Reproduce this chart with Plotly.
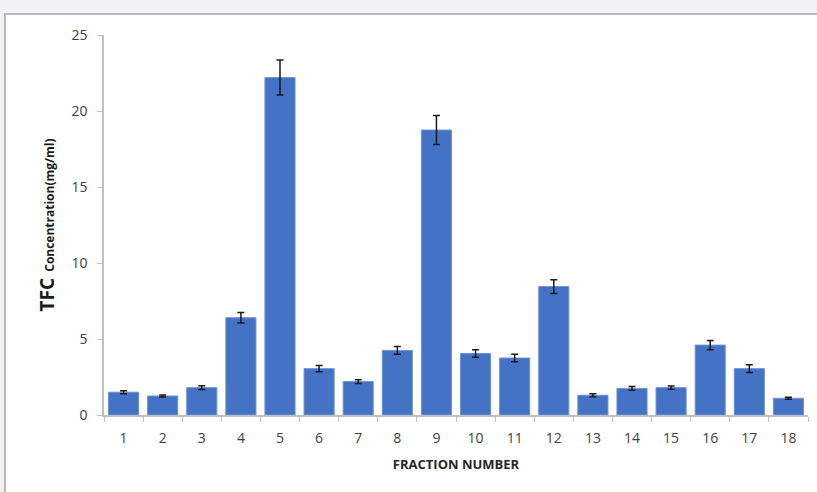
import plotly.graph_objects as go

# Total flavonoid content per collected fraction (mean ± SD)
fractions = [str(i) for i in range(1, 19)]
tfc_mean = [1.5, 1.25, 1.8, 6.4, 22.2, 3.05, 2.2, 4.25, 18.75, 4.05, 3.75, 8.45,
            1.3, 1.75, 1.8, 4.6, 3.05, 1.1]
tfc_sd = [0.1, 0.07, 0.12, 0.35, 1.15, 0.2, 0.12, 0.25, 0.95, 0.25, 0.25, 0.45,
          0.1, 0.12, 0.1, 0.3, 0.25, 0.06]
y_ticks = [0, 5, 10, 15, 20, 25]

W, H = 817, 492
L, R, T, B = 104, 9, 35, 77
pw, ph = W - L - R, H - T - B


def px_x(p):
    return (p - L) / pw


def px_y(p):
    return (H - B - p) / ph


fig = go.Figure(go.Bar(
    x=fractions,
    y=tfc_mean,
    marker=dict(color="#4472C4", line=dict(color="#6f93d4", width=1)),
    error_y=dict(type="data", array=tfc_sd, visible=True,
                 color="#1a1a1a", thickness=1.5, width=3.5),
))

font_family = "Open Sans, Lato, sans-serif"

fig.update_layout(
    width=W, height=H,
    margin=dict(l=L, r=R, t=T, b=B),
    paper_bgcolor="#f1f2f4",
    plot_bgcolor="white",
    bargap=0.23,
    showlegend=False,
    font=dict(family=font_family, color="#404040", size=14),
    xaxis=dict(
        type="category",
        showline=True, linecolor="#bfbfbf", linewidth=1.5,
        ticks="outside", tickson="boundaries", ticklen=5, tickcolor="#bfbfbf",
        tickfont=dict(size=14, color="#404040"),
        ticklabelstandoff=9,
        showgrid=False,
        title=dict(text="<b>FRACTION NUMBER</b>", font=dict(size=13, color="#262626"),
                   standoff=14),
    ),
    yaxis=dict(
        range=[0, 25], tickvals=y_ticks,
        showline=True, linecolor="#bfbfbf", linewidth=1.5,
        ticks="outside", ticklen=5, tickcolor="#bfbfbf",
        tickfont=dict(size=14, color="#404040"),
        ticklabelstandoff=7,
        showgrid=False, zeroline=False,
        title=dict(
            text="<b><span style='font-size:19px'>TFC</span>&nbsp; Concentration(mg/ml)</b>",
            font=dict(size=12, color="#1a1a1a"), standoff=14),
    ),
    shapes=[
        # white card with a grey border behind the chart
        dict(type="rect", xref="paper", yref="paper", layer="below",
             x0=px_x(5), x1=px_x(W + 20), y0=px_y(H + 20), y1=px_y(14),
             fillcolor="white", line=dict(color="#b8b8b8", width=2)),
    ],
)

fig.write_html("out.html")
